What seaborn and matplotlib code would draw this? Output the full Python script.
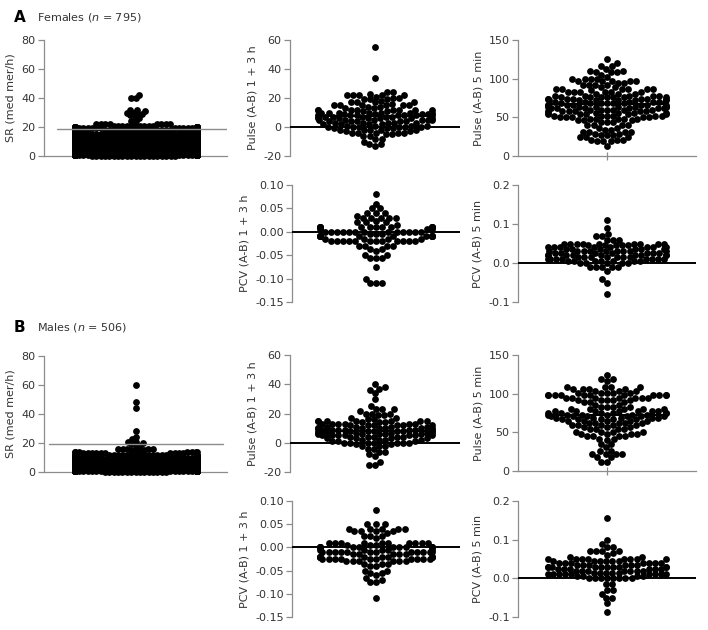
import warnings
import numpy as np
import matplotlib
matplotlib.use("Agg")
import matplotlib.pyplot as plt
import seaborn as sns

warnings.filterwarnings("ignore", category=UserWarning)

# ---- data: value levels and number of dots at each level ----

# A  Females (n = 795)
a_sr_levels = [0, 1, 2, 3, 4, 5, 6, 7, 8, 9, 10, 11, 12, 13, 14, 15, 16, 17, 18, 19, 20, 21, 22,
               24, 26, 27, 28, 29, 30, 31, 32, 40, 42]
a_sr_counts = [20, 45, 60, 65, 65, 60, 55, 50, 45, 40, 38, 32, 30, 28, 25, 22, 20, 18, 16, 14, 14, 10, 8,
               2, 1, 1, 1, 2, 2, 1, 2, 2, 1]

a_p13_levels = [55, 34, 24, 23, 22, 21, 20, 19, 18, 17, 16, 15, 14, 13, 12, 11, 10, 9, 8, 7, 6, 5, 4,
                3, 2, 1, 0, -1, -2, -3, -4, -5, -6, -8, -10, -12, -13]
a_p13_counts = [1, 1, 2, 1, 5, 1, 2, 3, 1, 4, 1, 6, 2, 2, 8, 2, 7, 4, 7, 6, 6, 6, 5,
                5, 4, 4, 6, 3, 5, 2, 5, 2, 2, 2, 1, 2, 1]

a_p5_levels = [126, 120, 116, 113, 110, 108, 105, 102, 100, 97, 95, 92, 89, 86, 85, 83, 80, 78, 76, 74,
               72, 70, 68, 66, 64, 62, 60, 58, 56, 54, 52, 50, 48, 46, 44, 40, 36, 34, 31, 29, 27, 24,
               21, 19, 13]
a_p5_counts = [1, 1, 2, 1, 2, 3, 1, 1, 4, 5, 2, 4, 2, 6, 1, 6, 3, 5, 7, 7,
               6, 6, 6, 7, 7, 6, 6, 6, 5, 5, 6, 5, 5, 3, 3, 4, 2, 2, 4, 2, 3, 3,
               3, 3, 1]

a_pcv13_levels = [0.08, 0.06, 0.05, 0.04, 0.033, 0.03, 0.023, 0.02, 0.015, 0.01, 0.005, 0.0, -0.005,
                  -0.01, -0.015, -0.02, -0.03, -0.037, -0.04, -0.05, -0.057, -0.075, -0.1, -0.11]
a_pcv13_counts = [1, 1, 2, 3, 1, 5, 1, 3, 1, 13, 3, 13, 3,
                  13, 4, 12, 4, 2, 1, 2, 3, 1, 1, 3]

a_pcv5_levels = [0.11, 0.09, 0.075, 0.07, 0.06, 0.05, 0.045, 0.04, 0.035, 0.03, 0.025, 0.02, 0.015,
                 0.01, 0.005, 0.0, -0.01, -0.02, -0.04, -0.05, -0.08]
a_pcv5_counts = [1, 1, 1, 2, 3, 9, 5, 8, 6, 9, 7, 9, 7,
                 8, 7, 5, 5, 1, 1, 1, 1]

# B  Males (n = 506)
b_sr_levels = [0, 1, 2, 3, 4, 5, 6, 7, 8, 9, 10, 11, 12, 13, 14, 15, 16,
               18, 19, 20, 21, 23, 24, 28, 44, 48, 60]
b_sr_counts = [15, 36, 53, 60, 55, 50, 45, 38, 32, 28, 24, 18, 14, 10, 7, 4, 5,
               2, 1, 1, 2, 1, 1, 1, 1, 1, 1]

b_p13_levels = [40, 38, 37, 36, 34, 30, 25, 23, 22, 20, 19, 17, 16, 15, 14, 13, 12, 11, 10, 9, 8, 7,
                6, 5, 4, 3, 2, 1, 0, -1, -2, -4, -6, -8, -9, -13, -15]
b_p13_counts = [1, 1, 1, 1, 1, 1, 1, 3, 1, 3, 2, 2, 2, 7, 3, 6, 6, 4, 7, 7, 7, 6,
                5, 7, 5, 4, 4, 3, 7, 2, 3, 2, 2, 1, 1, 1, 2]

b_p5_levels = [124, 119, 116, 108, 106, 103, 101, 98, 95, 92, 89, 85, 83, 80, 77, 75, 73, 71, 69, 67,
               65, 62, 59, 57, 54, 51, 48, 45, 42, 40, 35, 31, 26, 22, 18, 12]
b_p5_counts = [1, 2, 1, 4, 4, 3, 5, 11, 7, 5, 3, 2, 4, 5, 7, 6, 6, 6, 5, 5,
               5, 5, 5, 3, 4, 4, 4, 4, 2, 1, 2, 1, 2, 4, 2, 2]

b_pcv13_levels = [0.08, 0.05, 0.04, 0.035, 0.03, 0.025, 0.02, 0.01, 0.005, 0.0, -0.005, -0.01, -0.015,
                  -0.02, -0.025, -0.03, -0.035, -0.04, -0.05, -0.055, -0.06, -0.065, -0.07, -0.075, -0.11]
b_pcv13_counts = [1, 3, 5, 4, 1, 3, 1, 10, 3, 12, 5, 12, 5,
                  12, 10, 6, 3, 2, 2, 2, 1, 1, 1, 2, 1]

b_pcv5_levels = [0.155, 0.1, 0.09, 0.08, 0.07, 0.065, 0.06, 0.055, 0.05, 0.045, 0.04, 0.035, 0.03,
                 0.025, 0.02, 0.015, 0.01, 0.005, 0.0, -0.015, -0.03, -0.04, -0.05, -0.065, -0.087]
b_pcv5_counts = [1, 1, 1, 2, 4, 1, 1, 2, 8, 6, 7, 6, 10,
                 6, 7, 5, 9, 4, 8, 2, 2, 1, 2, 1, 1]

# horizontal lines (median / reference)
a_sr_ref, b_sr_ref = 18.6, 19.1
a_p13_med, b_p13_med = 7.5, 8.0
a_p5_med, b_p5_med = 67, 72

sr_ticks = [0, 20, 40, 60, 80]
p13_ticks = [-20, 0, 20, 40, 60]
p5_ticks = [0, 50, 100, 150]
pcv13_ticks = [-0.15, -0.10, -0.05, 0.00, 0.05, 0.10]
pcv5_ticks = [-0.1, 0.0, 0.1, 0.2]

# ---- figure ----
sns.set_theme(style="white")
plt.rcParams["font.family"] = ["DejaVu Sans"]

W, H = 708, 630
fig = plt.figure(figsize=(W / 100, H / 100), dpi=100)
GRAY = "#8c8c8c"
TXT = "#333333"
DOT = 4.9          # drawn dot diameter (pt)
swarms = []


def expand(levels, counts):
    return np.repeat(np.array(levels, dtype=float), counts)


def px_axes(left, top, right, bottom):
    return fig.add_axes([left / W, 1 - bottom / H, (right - left) / W, (bottom - top) / H])


def swarm_panel(rect, values, ylim, ticks, fmt, ylabel, pack=4.2, zero_line=False, center_tick=False):
    ax = px_axes(*rect)
    # swarm is laid out with a smaller dot so the drawn dots overlap like the original
    sns.swarmplot(y=values, ax=ax, color="black", size=pack, linewidth=0)
    for c in ax.collections:
        c.set_clip_on(False)
        swarms.append(c)
    ax.set_xlim(-0.6, 0.6)
    ax.set_ylim(*ylim)
    ax.set_yticks(ticks)
    ax.set_yticklabels([fmt.format(t) for t in ticks])
    ax.set_ylabel(ylabel, fontsize=8, color=TXT, labelpad=4)
    ax.set_xlabel("")
    for s in ["top", "right"]:
        ax.spines[s].set_visible(False)
    ax.spines["left"].set_color(GRAY)
    ax.spines["left"].set_linewidth(0.9)
    if zero_line:
        ax.spines["bottom"].set_visible(False)
        ax.axhline(0, color="black", lw=1.4, zorder=3)
    else:
        ax.spines["bottom"].set_color(GRAY)
        ax.spines["bottom"].set_linewidth(0.9)
    ax.tick_params(axis="y", direction="out", length=4, width=0.9, color=GRAY,
                   labelsize=8, labelcolor=TXT, pad=2, left=True)
    if center_tick:
        ax.set_xticks([0])
        ax.set_xticklabels([""])
        ax.tick_params(axis="x", direction="inout", length=6, width=0.9, color=GRAY, bottom=True)
    else:
        ax.set_xticks([])
    return ax


# row A
ax = swarm_panel((44, 40, 227, 156), expand(a_sr_levels, a_sr_counts), (0, 80), sr_ticks,
                 "{:d}", "SR (med mer/h)", pack=3.0)
ax.axhline(a_sr_ref, xmin=0.07, xmax=1.0, color=GRAY, lw=1.0, zorder=3)

ax = swarm_panel((290, 40, 460, 156), expand(a_p13_levels, a_p13_counts), (-20, 60), p13_ticks,
                 "{:d}", "Pulse (A-B) 1 + 3 h", zero_line=True)
ax.hlines(a_p13_med, -0.41, 0.41, color="black", lw=1.5, zorder=4)

ax = swarm_panel((518, 40, 696, 156), expand(a_p5_levels, a_p5_counts), (0, 150), p5_ticks,
                 "{:d}", "Pulse (A-B) 5 min", center_tick=True)
ax.hlines(a_p5_med, -0.41, 0.41, color="black", lw=1.5, zorder=4)

swarm_panel((292, 185, 460, 302), expand(a_pcv13_levels, a_pcv13_counts), (-0.15, 0.10), pcv13_ticks,
            "{:.2f}", "PCV (A-B) 1 + 3 h", zero_line=True)
swarm_panel((518, 185, 696, 302), expand(a_pcv5_levels, a_pcv5_counts), (-0.1, 0.2), pcv5_ticks,
            "{:.1f}", "PCV (A-B) 5 min", zero_line=True)

# row B
ax = swarm_panel((44, 356, 227, 472), expand(b_sr_levels, b_sr_counts), (0, 80), sr_ticks,
                 "{:d}", "SR (med mer/h)", pack=3.0)
ax.axhline(b_sr_ref, xmin=0.03, xmax=0.98, color=GRAY, lw=1.0, zorder=3)

ax = swarm_panel((290, 355, 460, 472), expand(b_p13_levels, b_p13_counts), (-20, 60), p13_ticks,
                 "{:d}", "Pulse (A-B) 1 + 3 h", zero_line=True)
ax.hlines(b_p13_med, -0.41, 0.41, color="black", lw=1.5, zorder=4)

ax = swarm_panel((518, 355, 696, 471), expand(b_p5_levels, b_p5_counts), (0, 150), p5_ticks,
                 "{:d}", "Pulse (A-B) 5 min", center_tick=True)
ax.hlines(b_p5_med, -0.41, 0.41, color="black", lw=1.5, zorder=4)

swarm_panel((292, 501, 460, 617), expand(b_pcv13_levels, b_pcv13_counts), (-0.15, 0.10), pcv13_ticks,
            "{:.2f}", "PCV (A-B) 1 + 3 h", zero_line=True)
swarm_panel((518, 501, 696, 617), expand(b_pcv5_levels, b_pcv5_counts), (-0.1, 0.2), pcv5_ticks,
            "{:.1f}", "PCV (A-B) 5 min", zero_line=True)

# panel headings
fig.text(14 / W, 1 - 17 / H, "A", fontsize=11, fontweight="bold", color="black", va="center")
fig.text(37 / W, 1 - 17 / H, "Females ($\\mathit{n}$ = 795)", fontsize=8, color=TXT, va="center")
fig.text(14 / W, 1 - 327 / H, "B", fontsize=11, fontweight="bold", color="black", va="center")
fig.text(37 / W, 1 - 327 / H, "Males ($\\mathit{n}$ = 506)", fontsize=8, color=TXT, va="center")

# lay the swarms out once, then freeze the positions and draw the bigger dots
fig.canvas.draw()
for c in swarms:
    if "draw" in c.__dict__:
        del c.draw
    c.set_sizes([DOT ** 2])

fig.savefig("out.png", dpi=100, facecolor="white")
